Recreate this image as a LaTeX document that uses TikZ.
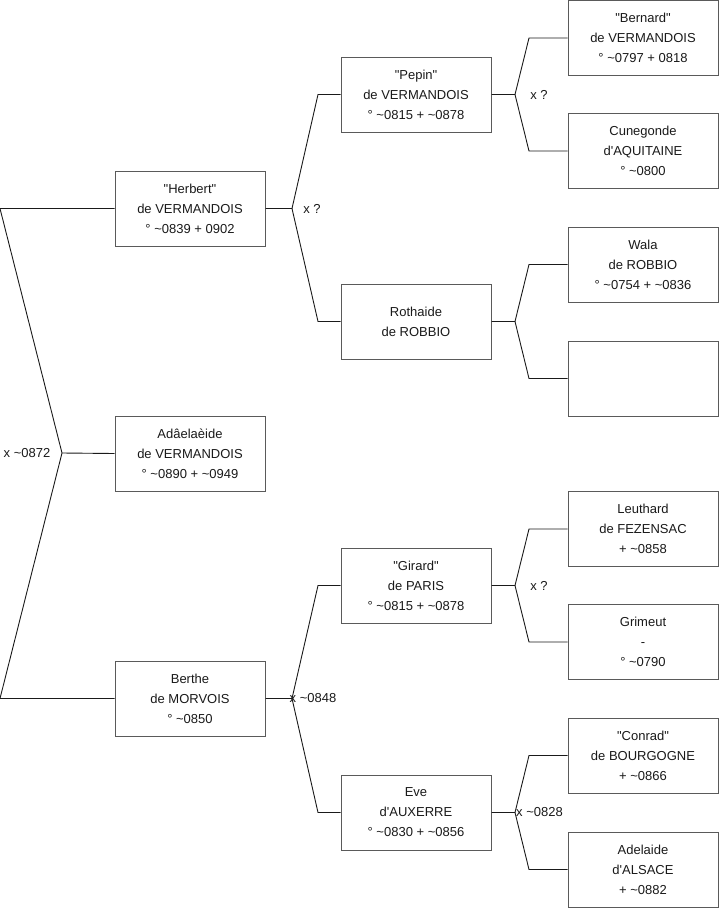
\documentclass[tikz,border=0pt]{standalone}
\usepackage{fontspec}
\newfontfamily\treefont{Liberation Sans}
\usepackage{xcolor}
\definecolor{treeGray}{HTML}{5A5A5A}
\definecolor{treeInk}{HTML}{1A1A1A}
\usepackage{tikz}
\usetikzlibrary{calc}

\begin{document}
\begin{tikzpicture}[x=1pt,y=-1pt]
  \tikzset{
    person/.style={
      draw=treeGray,
      fill=white,
      line width=1pt,
      minimum width=150pt,
      minimum height=75pt,
      align=center,
      font=\treefont\fontsize{13}{20}\selectfont,
      text=treeInk,
    },
    link/.style={
      draw=treeInk,
      line width=0.9pt,
    },
    union/.style={
      font=\treefont\fontsize{13}{16}\selectfont,
      text=treeInk,
      inner sep=1pt,
    },
  }

  \path[use as bounding box] (0,0) rectangle (719,908);

  % First generation
  \node[person] (herbert) at (190,208.5) {"Herbert"\\de VERMANDOIS\\° \textasciitilde0839 + 0902};
  \node[person] (adaelaide) at (190,453.5) {Adâelaèide\\de VERMANDOIS\\° \textasciitilde0890 + \textasciitilde0949};
  \node[person] (berthe) at (190,698.5) {Berthe\\de MORVOIS\\° \textasciitilde0850};

  % Second generation
  \node[person] (pepin) at (416,94.5) {"Pepin"\\de VERMANDOIS\\° \textasciitilde0815 + \textasciitilde0878};
  \node[person] (rothaide) at (416,321.5) {Rothaide\\de ROBBIO};
  \node[person] (girard) at (416,585.5) {"Girard"\\de PARIS\\° \textasciitilde0815 + \textasciitilde0878};
  \node[person] (eve) at (416,812.5) {Eve\\d'AUXERRE\\° \textasciitilde0830 + \textasciitilde0856};

  % Third generation
  \node[person] (bernard) at (643,38) {"Bernard"\\de VERMANDOIS\\° \textasciitilde0797 + 0818};
  \node[person] (cunegonde) at (643,151) {Cunegonde\\d'AQUITAINE\\° \textasciitilde0800};
  \node[person] (wala) at (643,264.5) {Wala\\de ROBBIO\\° \textasciitilde0754 + \textasciitilde0836};
  \node[person] (unknown) at (643,378.5) {};
  \node[person] (leuthard) at (643,529) {Leuthard\\de FEZENSAC\\+ \textasciitilde0858};
  \node[person] (grimeut) at (643,642) {Grimeut\\-\\° \textasciitilde0790};
  \node[person] (conrad) at (643,755.5) {"Conrad"\\de BOURGOGNE\\+ \textasciitilde0866};
  \node[person] (adelaide) at (643,869.5) {Adelaide\\d'ALSACE\\+ \textasciitilde0882};

  % Junctions of the couples
  \coordinate (jHB) at (62,453);
  \coordinate (jPR) at (292,208.5);
  \coordinate (jGE) at (292,698.5);
  \coordinate (jBC) at (515,94.5);
  \coordinate (jWU) at (515,321.5);
  \coordinate (jLG) at (515,585.5);
  \coordinate (jCA) at (515,812.5);

  % Herbert x Berthe
  \draw[link] (herbert.west) -- (0,208.5) -- (jHB) -- (0,698.5) -- (berthe.west);
  \draw[link] (jHB) -- (adaelaide.west);

  % Pepin x Rothaide, Girard x Eve
  \draw[link] (herbert.east) -- (jPR) -- (318,94.5) -- (pepin.west);
  \draw[link] (jPR) -- (318,321.5) -- (rothaide.west);
  \draw[link] (berthe.east) -- (jGE) -- (318,585.5) -- (girard.west);
  \draw[link] (jGE) -- (318,812.5) -- (eve.west);

  % Third generation couples
  \draw[link] (pepin.east) -- (jBC) -- (529,38) -- (bernard.west);
  \draw[link] (jBC) -- (529,151) -- (cunegonde.west);
  \draw[link] (rothaide.east) -- (jWU) -- (529,264.5) -- (wala.west);
  \draw[link] (jWU) -- (529,378.5) -- (unknown.west);
  \draw[link] (girard.east) -- (jLG) -- (529,529) -- (leuthard.west);
  \draw[link] (jLG) -- (529,642) -- (grimeut.west);
  \draw[link] (eve.east) -- (jCA) -- (529,755.5) -- (conrad.west);
  \draw[link] (jCA) -- (529,869.5) -- (adelaide.west);

  % Marriage labels
  \node[union] (mHB) at (27,453) {x \textasciitilde0872};
  \node[union] (mPR) at (312,208.5) {x ?};
  \node[union] (mGE) at (313,698.5) {x \textasciitilde0848};
  \node[union] (mBC) at (539,94.5) {x ?};
  \node[union] (mLG) at (539,585.5) {x ?};
  \node[union] (mCA) at (539.5,812.5) {x \textasciitilde0828};
\end{tikzpicture}
\end{document}
